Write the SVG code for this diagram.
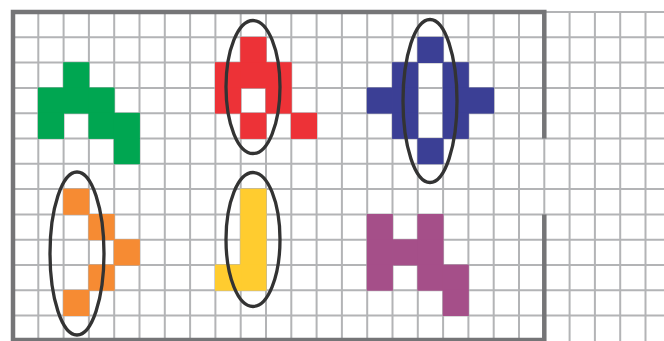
<svg xmlns="http://www.w3.org/2000/svg" width="664" height="341" viewBox="0 0 664 341">
<style>
.grid{fill:none;stroke:#B3B4B6;stroke-width:2}
.border{fill:none;stroke:#757577;stroke-width:4.5}
.ring{fill:none;stroke:#333333;stroke-width:3.3}
.green{fill:#00A651}
.red{fill:#ED3237}
.blue{fill:#3B3F95}
.orange{fill:#F68B33}
.yellow{fill:#FFCC2F}
.purple{fill:#A54F89}
</style>
<defs>
<rect id="c" x="-0.4" y="-0.4" width="26.1" height="26.1"/>
</defs>
<rect width="664" height="341" fill="#FFFFFF"/>
<path class="grid" d="M13 12V341M38.3 12V341M63.6 12V341M88.9 12V341M114.2 12V341M139.5 12V341M164.8 12V341M190.1 12V341M215.4 12V341M240.7 12V341M266 12V341M291.3 12V341M316.6 12V341M341.9 12V341M367.2 12V341M392.5 12V341M417.8 12V341M443.1 12V341M468.4 12V341M493.7 12V341M519 12V341M544.3 12V341M569.6 12V341M594.9 12V341M620.2 12V341M645.5 12V341M13 12H664M13 37.3H664M13 62.6H664M13 87.9H664M13 113.2H664M13 138.5H664M13 163.8H664M13 189.1H664M13 214.4H664M13 239.7H664M13 265H664M13 290.3H664M13 315.6H664"/>
<g id="shape-green" class="green">
<use href="#c" x="63.6" y="62.6"/>
<use href="#c" x="38.3" y="87.9"/><use href="#c" x="63.6" y="87.9"/><use href="#c" x="88.9" y="87.9"/>
<use href="#c" x="38.3" y="113.2"/><use href="#c" x="88.9" y="113.2"/><use href="#c" x="114.2" y="113.2"/>
<use href="#c" x="114.2" y="138.5"/>
</g>
<g id="shape-red" class="red">
<use href="#c" x="240.7" y="37.3"/>
<use href="#c" x="215.4" y="62.6"/><use href="#c" x="240.7" y="62.6"/><use href="#c" x="266" y="62.6"/>
<use href="#c" x="215.4" y="87.9"/><use href="#c" x="266" y="87.9"/>
<use href="#c" x="240.7" y="113.2"/><use href="#c" x="291.3" y="113.2"/>
</g>
<g id="shape-blue" class="blue">
<use href="#c" x="417.8" y="37.3"/>
<use href="#c" x="392.5" y="62.6"/><use href="#c" x="443.1" y="62.6"/>
<use href="#c" x="367.2" y="87.9"/><use href="#c" x="392.5" y="87.9"/><use href="#c" x="443.1" y="87.9"/><use href="#c" x="468.4" y="87.9"/>
<use href="#c" x="392.5" y="113.2"/><use href="#c" x="443.1" y="113.2"/>
<use href="#c" x="417.8" y="138.5"/>
</g>
<g id="shape-orange" class="orange">
<use href="#c" x="63.6" y="189.1"/>
<use href="#c" x="88.9" y="214.4"/>
<use href="#c" x="114.2" y="239.7"/>
<use href="#c" x="88.9" y="265"/>
<use href="#c" x="63.6" y="290.3"/>
</g>
<g id="shape-yellow" class="yellow">
<use href="#c" x="240.7" y="189.1"/>
<use href="#c" x="240.7" y="214.4"/>
<use href="#c" x="240.7" y="239.7"/>
<use href="#c" x="240.7" y="265"/><use href="#c" x="215.4" y="265"/>
</g>
<g id="shape-purple" class="purple">
<use href="#c" x="367.2" y="214.4"/><use href="#c" x="417.8" y="214.4"/>
<use href="#c" x="367.2" y="239.7"/><use href="#c" x="392.5" y="239.7"/><use href="#c" x="417.8" y="239.7"/>
<use href="#c" x="367.2" y="265"/><use href="#c" x="417.8" y="265"/><use href="#c" x="443.1" y="265"/>
<use href="#c" x="443.1" y="290.3"/>
</g>
<g id="frame">
<path class="border" d="M544.3 138.5V12H13V340H544.3V214.4"/>
</g>
<g id="rings">
<ellipse id="ring-red" class="ring" cx="253" cy="87" rx="27" ry="66.5"/>
<ellipse id="ring-blue" class="ring" cx="430" cy="101" rx="27" ry="81.5"/>
<ellipse id="ring-orange" class="ring" cx="77" cy="253.5" rx="27" ry="81.5"/>
<ellipse id="ring-yellow" class="ring" cx="253" cy="239.5" rx="27" ry="67"/>
</g>
</svg>
